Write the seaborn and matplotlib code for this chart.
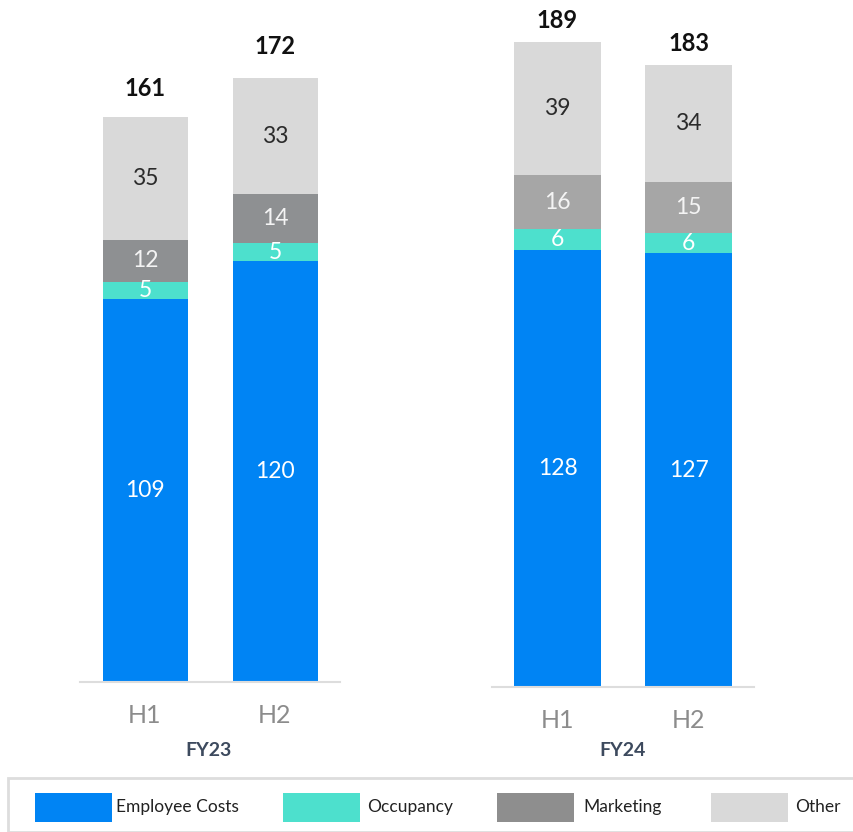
import matplotlib
matplotlib.use("Agg")
import matplotlib.pyplot as plt
from matplotlib.patches import Rectangle
import seaborn as sns
import numpy as np
import pandas as pd

# ---- data -------------------------------------------------------------
halves = ["H1", "H2"]
categories = ["Employee Costs", "Occupancy", "Marketing", "Other"]

fy23_employee = [109, 120]
fy23_occupancy = [5, 5]
fy23_marketing = [12, 14]
fy23_other = [35, 33]
fy23_total = [161, 172]

fy24_employee = [128, 127]
fy24_occupancy = [6, 6]
fy24_marketing = [16, 15]
fy24_other = [39, 34]
fy24_total = [189, 183]

# ---- style ------------------------------------------------------------
sns.set_theme(style="white")
plt.rcParams["font.family"] = ["Lato", "DejaVu Sans"]

W, H = 854, 832
fig = plt.figure(figsize=(W / 100, H / 100), dpi=100)
fig.patch.set_facecolor("white")

BLUE = "#0084F4"
TEAL = "#4DE0CD"
OTHER = "#D9D9D9"
legend_colors = [BLUE, TEAL, "#8E8E8E", OTHER]
text_on = ["white", "white", "#F4F4F4", "#2B2B2B"]


def px_axes(x0, x1, y_base, y_top):
    """Axes placed by pixel edges (y measured from the top)."""
    return fig.add_axes([x0 / W, 1 - y_base / H, (x1 - x0) / W, (y_base - y_top) / H])


def draw_panel(ax, segments, total, mkt_color, bar_width, ymax, total_offset):
    colors = [BLUE, TEAL, mkt_color, OTHER]
    cum = np.cumsum(np.array(segments), axis=0)  # rows: stacking levels
    # paint from the tallest stack down so each layer covers the next
    for level in range(len(segments) - 1, -1, -1):
        df = pd.DataFrame({"half": halves, "value": cum[level]})
        sns.barplot(data=df, x="half", y="value", color=colors[level],
                    saturation=1, width=bar_width, linewidth=0, ax=ax)
    # segment labels
    for i in range(len(halves)):
        for level in range(len(segments)):
            lo = cum[level - 1][i] if level > 0 else 0
            hi = cum[level][i]
            ax.text(i, (lo + hi) / 2, f"{segments[level][i]}", ha="center",
                    va="center", fontsize=16.5, fontweight="normal",
                    color=text_on[level])
        ax.annotate(f"{total[i]}", xy=(i, cum[-1][i]), xytext=(0, total_offset[i]),
                    textcoords="offset pixels", ha="center", va="center",
                    fontsize=17, fontweight="bold", color="#111111")
    ax.set_xlim(-0.5, 1.5)
    ax.set_ylim(0, ymax)
    ax.set_xlabel("")
    ax.set_ylabel("")
    ax.set_yticks([])
    for s in ["left", "right", "top"]:
        ax.spines[s].set_visible(False)
    ax.spines["bottom"].set_color("#DDDDDD")
    ax.spines["bottom"].set_linewidth(1.5)
    ax.tick_params(axis="x", length=0, pad=16, labelsize=18, labelcolor="#8C8C8C")
    ax.set_facecolor("none")


ax1 = px_axes(80, 340, 682, 15)
draw_panel(ax1,
           [fy23_employee, fy23_occupancy, fy23_marketing, fy23_other],
           fy23_total, "#8E9092", 85 / 130, 667 / 3.51, [28, 32])

ax2 = px_axes(492, 754, 687, 21)
draw_panel(ax2,
           [fy24_employee, fy24_occupancy, fy24_marketing, fy24_other],
           fy24_total, "#A6A6A6", 87 / 131, 666 / 3.415, [21, 22])

# year labels
fig.text(209 / W, 1 - 750 / H, "FY23", ha="center", va="center",
         fontsize=14, fontweight="bold", color="#3D4A5E")
fig.text(623 / W, 1 - 750 / H, "FY24", ha="center", va="center",
         fontsize=14, fontweight="bold", color="#3D4A5E")

# legend frame
fig.patches.append(Rectangle((8 / W, 0), 900 / W, (832 - 778) / H,
                             transform=fig.transFigure, facecolor="white",
                             edgecolor="#DDDDDD", linewidth=2, zorder=0))
patch_x = [35, 283, 497, 711]
text_x = [116, 367, 583, 795]
for name, c, px, tx in zip(categories, legend_colors, patch_x, text_x):
    fig.patches.append(Rectangle((px / W, 1 - 822 / H), 77 / W, 29 / H,
                                 transform=fig.transFigure, facecolor=c,
                                 edgecolor="none", zorder=1))
    fig.text(tx / W, 1 - 807 / H, name, ha="left", va="center",
             fontsize=12.5, color="#222222")

fig.savefig("out.png", dpi=100)
